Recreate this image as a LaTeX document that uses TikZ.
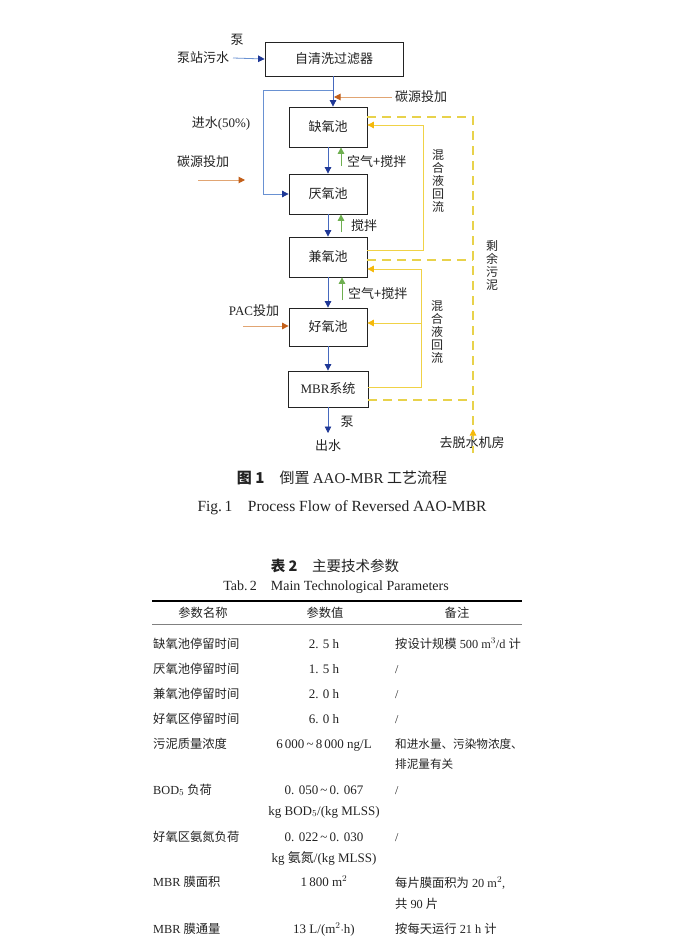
\documentclass[tikz,border=0pt]{standalone}
\usepackage{fontspec}
\usepackage{tikz}
\usetikzlibrary{arrows.meta,positioning}
\setmainfont{Liberation Serif}
\newfontfamily\zh{Noto Sans CJK SC}
\definecolor{inkblk}{RGB}{35,35,35}
\definecolor{flowln}{RGB}{70,105,190}
\definecolor{feedln}{RGB}{105,145,210}
\definecolor{flowtip}{RGB}{30,55,150}
\definecolor{doseln}{RGB}{225,165,115}
\definecolor{dosetip}{RGB}{195,95,25}
\definecolor{airgrn}{RGB}{110,175,80}
\definecolor{mixyel}{RGB}{240,210,70}
\definecolor{mixtip}{RGB}{245,185,10}
\definecolor{sludgeyel}{RGB}{232,210,75}

\begin{document}
\begin{tikzpicture}[
    x=1pt,y=-1pt,
    every node/.style={text=inkblk,inner sep=0pt},
    font=\zh\fontsize{13}{15}\selectfont,
    tank/.style={draw=inkblk,line width=0.8pt,minimum width=78pt,minimum height=40pt},
    flow/.style={draw=flowln,line width=0.8pt,-{Triangle[length=6.5pt,width=6.5pt,color=flowtip]}},
    feed/.style={flow,draw=feedln},
    dose/.style={draw=doseln,line width=1pt,-{Triangle[length=6.5pt,width=6.5pt,color=dosetip]}},
    air/.style={draw=airgrn,line width=1pt,-{Triangle[length=6.5pt,width=6.5pt]}},
    mix/.style={draw=mixyel,line width=0.9pt,-{Triangle[length=6.5pt,width=6.5pt,color=mixtip]}},
    sludge/.style={draw=sludgeyel,line width=1.1pt,dash pattern=on 9pt off 6pt},
    vlbl/.style={align=center,font=\zh\fontsize{12}{13}\selectfont},
    cell/.style={anchor=base west,align=left,font=\zh\fontsize{12.3}{21}\selectfont},
    mcell/.style={anchor=base,align=center,font=\fontsize{13}{21}\selectfont}
  ]
    \useasboundingbox[fill=white] (0,0) rectangle (681,942);

    \node[tank,minimum width=138pt,minimum height=34pt] (filter) at (334,59) {自清洗过滤器};
    \node[tank] (que) at (328,127) {缺氧池};
    \node[tank] (yan) at (328,194) {厌氧池};
    \node[tank] (jian) at (328,257) {兼氧池};
    \node[tank,minimum height=38pt] (hao) at (328,327) {好氧池};
    \node[tank,minimum width=80pt,minimum height=36pt] (mbr) at (328,389) {{\rmfamily MBR}系统};

    \node (pump1) at (237,40) {泵};
    \node (raw) at (203,58) {泵站污水};
    \node (feedin) at (221,123) {进水{\rmfamily (50\%)}};
    \node (carbon2) at (203,162) {碳源投加};
    \node[anchor=west] (carbon1) at (395,97) {碳源投加};
    \node[anchor=west] (air1) at (347,162) {空气+搅拌};
    \node[anchor=west] (stir) at (351,226) {搅拌};
    \node[anchor=west] (air2) at (348,294) {空气+搅拌};
    \node (pac) at (254,311) {{\rmfamily PAC}投加};
    \node (pump2) at (347,422) {泵};
    \node (effl) at (328,446) {出水};
    \node (dewater) at (472,443) {去脱水机房};
    \node[vlbl] (ret1) at (438,181) {混\\合\\液\\回\\流};
    \node[vlbl] (ret2) at (437,332) {混\\合\\液\\回\\流};
    \node[vlbl] (waste) at (492,265) {剩\\余\\污\\泥};

    \coordinate (rawend) at (233,58);
    \coordinate (split) at (333,90);
    \coordinate (bypass) at (263,90);
    \coordinate (dose1) at (392,97);
    \coordinate (dose2a) at (198,180);
    \coordinate (dose2b) at (245,180);
    \coordinate (dose3) at (243,326);
    \coordinate (g1) at (341,166);
    \coordinate (g2) at (341,232);
    \coordinate (g3) at (342,300);
    \coordinate (m1) at (423,125);
    \coordinate (m2) at (421,269);
    \coordinate (m3) at (421,323);
    \coordinate (s1) at (473,117);
    \coordinate (s2) at (473,429);
    \coordinate (outlet) at (328,433);

    \draw[feed] (rawend) -- (filter.west);
    \draw[flow] (filter.south -| split) -- (split |- que.north);
    \draw[feed] (split) -- (bypass) |- (yan.west);
    \draw[dose] (dose1) -- ([xshift=1pt]split |- dose1);
    \draw[dose] (dose2a) -- (dose2b);
    \draw[dose] (dose3) -- (hao.west |- dose3);
    \draw[flow] (que) -- (yan);
    \draw[flow] (yan) -- (jian);
    \draw[flow] (jian) -- (hao);
    \draw[flow] (hao) -- (mbr);
    \draw[flow] (mbr) -- (outlet);
    \draw[air] (g1) -- (g1 |- que.south);
    \draw[air] (g2) -- (g2 |- yan.south);
    \draw[air] (g3) -- (g3 |- jian.south);

    \draw[mix] (jian.east |- 0,250) -| (m1) -- (que.east |- m1);
    \draw[mix] (mbr.east |- 0,387) -| (m2) -- (jian.east |- m2);
    \draw[mix] (m3) -- (hao.east |- m3);

    \draw[sludge] (que.east |- s1) -- (s1) -- ([yshift=-24pt]s2);
    \draw[sludge] (jian.east |- 0,260) -- (s1 |- 0,260);
    \draw[sludge] (mbr.east |- 0,400) -- (s1 |- 0,400);
    \draw[draw=sludgeyel,line width=1pt,-{Triangle[length=6.5pt,width=6.5pt,color=mixtip]}] ([yshift=-9pt]s2) -- (s2);

    \node[font=\zh\fontsize{15}{18}\selectfont] (fig1zh) at (342,478) {{\bfseries 图 1}\quad 倒置 {\rmfamily AAO-MBR} 工艺流程};
    \node[font=\rmfamily\fontsize{15.5}{18}\selectfont] (fig1en) at (342,508) {Fig.\,1\quad Process Flow of Reversed AAO-MBR};
    \node[font=\zh\fontsize{14.5}{17}\selectfont] (tab2zh) at (335,566) {{\bfseries 表 2}\quad 主要技术参数};
    \node[font=\rmfamily\fontsize{14}{16}\selectfont] (tab2en) at (336,587) {Tab.\,2\quad Main Technological Parameters};

    \draw[line width=1.3pt] (152,601) -- (522,601);
    \draw[line width=0.5pt,gray] (152,624) -- (522,624);

    \node[mcell,font=\zh\fontsize{12.3}{21}\selectfont] (h1) at (203,617) {参数名称};
    \node[mcell,font=\zh\fontsize{12.3}{21}\selectfont] (h2) at (325,617) {参数值};
    \node[mcell,font=\zh\fontsize{12.3}{21}\selectfont] (h3) at (457,617) {备注};

    \node[cell] (a1) at (153,648) {缺氧池停留时间};
    \node[mcell] (b1) at (324,648) {2. 5 h};
    \node[cell] (c1) at (395,648) {按设计规模{\rmfamily\ 500 m$^3$/d }计};
    \node[cell] (a2) at (153,673) {厌氧池停留时间};
    \node[mcell] (b2) at (324,673) {1. 5 h};
    \node[cell,font=\rmfamily\fontsize{12}{21}\selectfont] (c2) at (395,673) {/};
    \node[cell] (a3) at (153,698) {兼氧池停留时间};
    \node[mcell] (b3) at (324,698) {2. 0 h};
    \node[cell,font=\rmfamily\fontsize{12}{21}\selectfont] (c3) at (395,698) {/};
    \node[cell] (a4) at (153,723) {好氧区停留时间};
    \node[mcell] (b4) at (324,723) {6. 0 h};
    \node[cell,font=\rmfamily\fontsize{12}{21}\selectfont] (c4) at (395,723) {/};
    \node[cell] (a5) at (153,748) {污泥质量浓度};
    \node[mcell] (b5) at (324,748) {6\,000\,\textasciitilde\,8\,000 ng/L};
    \node[cell,font=\zh\fontsize{11.6}{20}\selectfont] (c5) at (395,768) {和进水量、污染物浓度、\\排泥量有关};
    \node[cell] (a6) at (153,794) {{\rmfamily BOD$_5$ }负荷};
    \node[mcell] (b6) at (324,815) {0. 050\,\textasciitilde\,0. 067\\kg BOD$_5$/(kg MLSS)};
    \node[cell,font=\rmfamily\fontsize{12}{21}\selectfont] (c6) at (395,794) {/};
    \node[cell] (a7) at (153,841) {好氧区氨氮负荷};
    \node[mcell] (b7) at (324,862) {0. 022\,\textasciitilde\,0. 030\\kg {\zh 氨氮}/(kg MLSS)};
    \node[cell,font=\rmfamily\fontsize{12}{21}\selectfont] (c7) at (395,841) {/};
    \node[cell] (a8) at (153,886) {{\rmfamily MBR }膜面积};
    \node[mcell] (b8) at (324,886) {1\,800 m$^2$};
    \node[cell] (c8) at (395,908) {每片膜面积为{\rmfamily\ 20 m$^2$,}\\共{\rmfamily\ 90 }片};
    \node[cell] (a9) at (153,933) {{\rmfamily MBR }膜通量};
    \node[mcell] (b9) at (324,933) {13 L/(m$^2\cdot$h)};
    \node[cell] (c9) at (395,933) {按每天运行{\rmfamily\ 21 h }计};
  \end{tikzpicture}
\end{document}
